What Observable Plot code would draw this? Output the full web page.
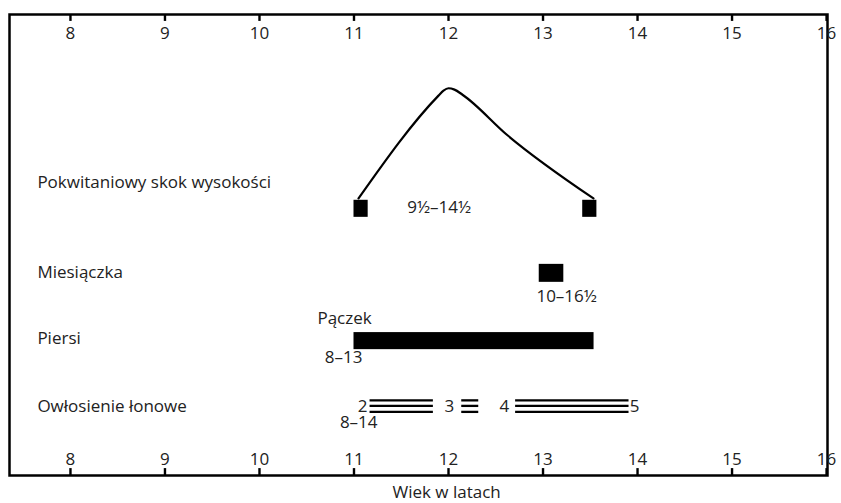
<!DOCTYPE html>
<html><head><meta charset="utf-8">
<script src="https://cdn.jsdelivr.net/npm/d3@7"></script>
<script src="https://cdn.jsdelivr.net/npm/@observablehq/plot@0.6"></script>
<style>body{margin:0;background:#fff;font-family:"Open Sans",sans-serif;}</style>
</head><body><div id="chart"></div>
<script>
// x ticks (age in years)
const ticks = [8, 9, 10, 11, 12, 13, 14, 15, 16];
// row labels and their vertical positions (arbitrary units 0–100)
const rowNames = ["Pokwitaniowy skok wysokości", "Miesiączka", "Piersi", "Owłosienie łonowe"];
const rowY = [63.6, 44.0, 29.7, 15.0];
// growth spurt curve
const curveX = [11.048, 11.894, 11.947, 12.0, 12.063, 12.148, 12.624, 13.534];
const curveY = [60.1, 82.4, 83.5, 84.0, 83.7, 82.6, 73.8, 60.1];
// growth spurt end markers
const markerX1 = [11.0, 13.42];
const markerX2 = [11.15, 13.57];
const markerY = [56.0, 59.7];
// menstruation bar
const mensX = [12.96, 13.22];
const mensY = [41.9, 45.8];
// breast bar
const breastX = [11.0, 13.54];
const breastY = [27.3, 31.0];
// pubic hair stage segments
const hairX1 = [11.17, 12.14, 12.71];
const hairX2 = [11.84, 12.32, 13.91];
const hairLineY = [16.3, 15.1, 13.8];
// annotations
const annText = ["9½–14½", "10–16½", "Pączek", "8–13", "2", "3", "4", "5", "8–14"];
const annX = [11.90, 13.25, 10.90, 10.89, 11.09, 12.01, 12.59, 13.97, 11.05];
const annY = [58.1, 38.8, 34.1, 25.6, 14.9, 14.9, 14.9, 14.9, 11.4];
const annAnchor = ["middle", "middle", "start", "start", "end", "middle", "middle", "start", "middle"];
const axisTitle = "Wiek w latach";

const rows = rowNames.map((n, i) => ({n, y: rowY[i]}));
const curve = curveX.map((x, i) => ({x, y: curveY[i]}));
const markers = markerX1.map((x1, i) => ({x1, x2: markerX2[i], y1: markerY[0], y2: markerY[1]}));
const hair = [];
hairLineY.forEach(y => hairX1.forEach((x1, i) => hair.push({x1, x2: hairX2[i], y})));
const ann = annText.map((t, i) => ({t, x: annX[i], y: annY[i], a: annAnchor[i]}));

const fs = 17;
const chart = Plot.plot({
  width: 841, height: 503,
  marginLeft: 9, marginRight: 14, marginTop: 14, marginBottom: 28,
  style: {fontFamily: "Open Sans", fontSize: fs + "px", color: "#111"},
  x: {domain: [7.355, 16.01]},
  y: {domain: [0, 100], axis: null},
  marks: [
    Plot.frame({strokeWidth: 2.5, stroke: "#000"}),
    Plot.ruleX(ticks, {x: d => d, y1: 100, y2: 98.5, strokeWidth: 2.4, stroke: "#000"}),
    Plot.ruleX(ticks, {x: d => d, y1: 0, y2: 1.5, strokeWidth: 2.4, stroke: "#000"}),
    Plot.axisX(ticks, {anchor: "top", tickSize: 0, tickPadding: 0, dy: 24, fontSize: fs, fill: "#222", label: null}),
    Plot.axisX(ticks, {anchor: "bottom", tickSize: 0, tickPadding: 0, dy: -23, fontSize: fs, fill: "#222", label: null}),
    Plot.line(curve, {x: "x", y: "y", curve: "monotone-x", strokeWidth: 2.2, stroke: "#000"}),
    Plot.rect(markers, {x1: "x1", x2: "x2", y1: "y1", y2: "y2", fill: "#000"}),
    Plot.rect([{x1: mensX[0], x2: mensX[1], y1: mensY[0], y2: mensY[1]}], {x1: "x1", x2: "x2", y1: "y1", y2: "y2", fill: "#000"}),
    Plot.rect([{x1: breastX[0], x2: breastX[1], y1: breastY[0], y2: breastY[1]}], {x1: "x1", x2: "x2", y1: "y1", y2: "y2", fill: "#000"}),
    Plot.ruleY(hair, {x1: "x1", x2: "x2", y: "y", strokeWidth: 2.3, stroke: "#000"}),
    Plot.text(rows, {x: 7.65, y: "y", text: "n", textAnchor: "start", fontSize: fs, fill: "#222"}),
    Plot.text(ann, {x: "x", y: "y", text: "t", textAnchor: d => d.a, fontSize: fs, fill: "#222"}),
    Plot.text([axisTitle], {x: 11.98, y: -3.6, text: d => d, fontSize: fs, fill: "#222"})
  ]
});
document.getElementById("chart").append(chart);
</script>
</body></html>
